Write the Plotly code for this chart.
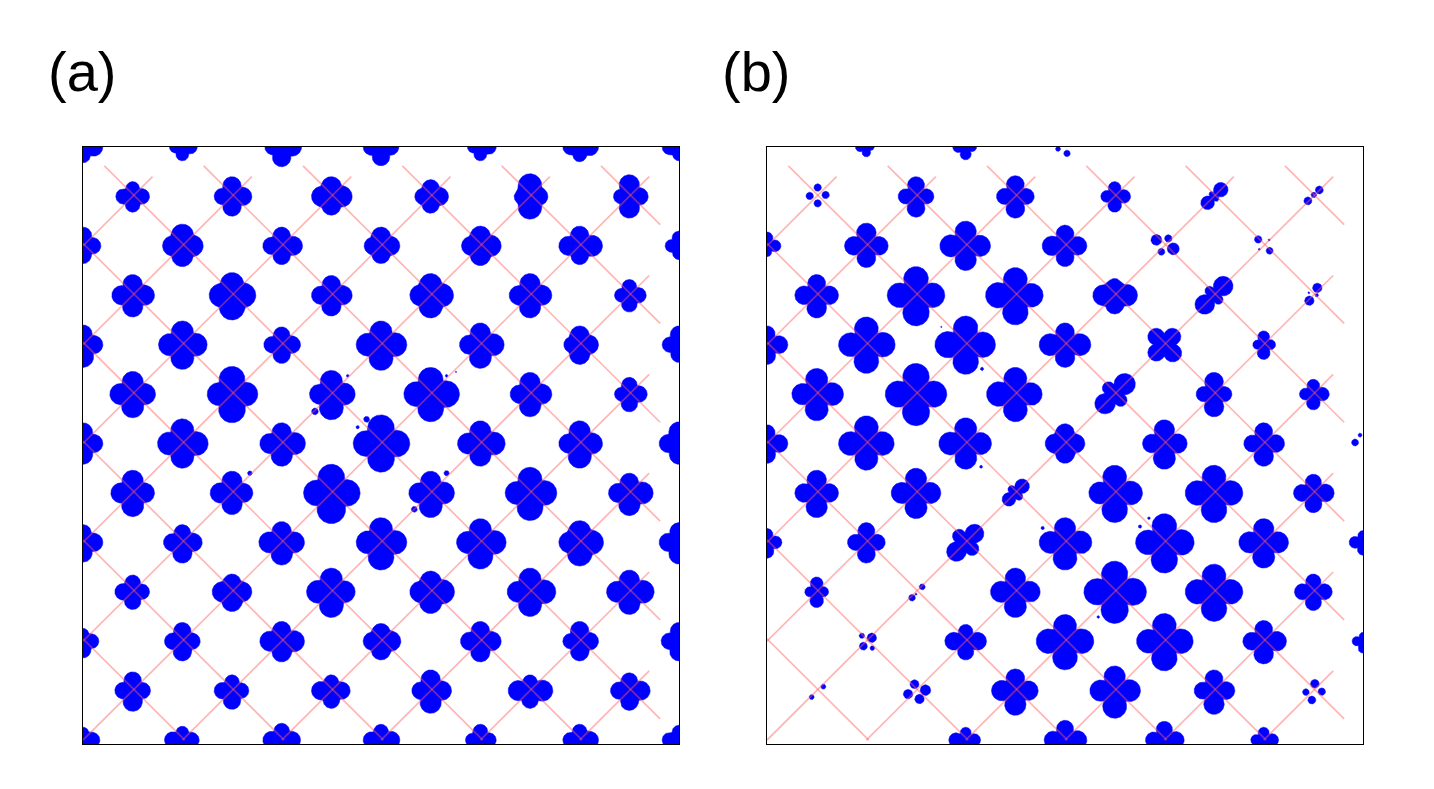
import numpy as np
import plotly.graph_objects as go

# Lobe lengths (top, right, bottom, left) of each clover, one unit = 1/50 lattice step.
# Rows are keyed by lattice row j; the column index i starts at j % 2 and steps by 2.
a_row_12 = [(16,20,16,16),(16,15,14,13),(16,20,20,17),(16,18,19,18),(16,16,14,13),(16,19,15,17),(16,16,14,17)]
a_row_11 = [(15,17,16,17),(20,20,20,18),(20,21,19,20),(17,18,17,16),(23,18,23,16),(22,19,22,16)]
a_row_10 = [(19,18,18,16),(22,21,21,20),(19,21,19,19),(19,19,18,17),(20,21,20,19),(20,23,19,21),(15,16,14,14)]
a_row_9  = [(21,22,22,21),(23,24,25,23),(20,21,21,20),(22,23,23,21),(22,22,23,21),(16,17,17,15)]
a_row_8  = [(20,20,23,18),(24,25,25,24),(18,19,19,18),(24,26,26,25),(22,24,24,21),(19,19,20,16),(19,16,18,17)]
a_row_7  = [(23,23,24,23),(28,26,29,25),(24,24,26,22),(27,29,28,27),(22,22,23,20),(17,18,18,15)]
a_row_6  = [(21,20,21,18),(25,26,25,25),(21,24,23,22),(29,29,29,28),(23,25,23,23),(23,23,25,21),(22,18,21,20)]
a_row_5  = [(23,22,24,22),(22,21,22,22),(29,29,31,28),(22,24,25,22),(26,27,28,25),(20,24,23,21)]
a_row_4  = [(18,20,20,16),(18,20,21,19),(21,23,23,23),(25,26,28,25),(24,26,27,24),(22,24,24,21),(20,16,22,20)]
a_row_3  = [(17,17,18,18),(18,20,20,20),(24,24,26,25),(21,24,22,21),(24,26,25,23),(22,25,23,23)]
a_row_2  = [(13,16,17,14),(19,18,20,18),(20,23,21,22),(18,20,19,18),(20,21,21,20),(20,19,20,17),(19,16,20,18)]
a_row_1  = [(19,18,21,18),(16,17,19,18),(16,19,18,20),(21,21,23,19),(16,23,18,22),(18,21,20,19)]
a_row_0  = [(13,17,15,15),(14,17,15,18),(17,19,15,19),(16,19,15,18),(16,16,15,15),(16,19,15,17),(15,16,15,17)]
a_rows = {12:a_row_12,11:a_row_11,10:a_row_10,9:a_row_9,8:a_row_8,7:a_row_7,6:a_row_6,
          5:a_row_5,4:a_row_4,3:a_row_3,2:a_row_2,1:a_row_1,0:a_row_0}

b_row_12 = [None,(5,8,10,11),(5,11,13,13),None,None,None,None]
b_row_11 = [None,(20,18,21,18),(21,19,22,19),(15,16,16,14),(17,6,16,6),None]
b_row_10 = [(14,14,11,10),(23,22,22,22),(25,25,25,26),(21,22,21,23),None,None,None]
b_row_9  = [(21,22,23,22),(29,29,31,29),(28,28,30,30),(17,23,19,22),(23,11,23,11),None]
b_row_8  = [(19,21,20,10),(28,29,29,28),(29,30,30,31),(22,26,23,26),(20,21,20,20),(14,12,15,11),None]
b_row_7  = [(26,27,27,25),(31,31,32,31),(27,27,28,29),(25,15,24,15),(22,18,23,18),(15,16,16,14)]
b_row_6  = [(19,21,20,10),(28,28,27,28),(26,26,26,27),(20,20,20,20),(24,23,26,22),(21,21,23,20),None]
b_row_5  = [(23,22,25,22),(25,25,26,25),(17,9,16,9),(28,28,30,26),(28,29,30,29),(19,21,20,20)]
b_row_4  = [(14,15,16,10),(20,19,21,19),(22,16,23,16),(25,27,28,26),(29,30,31,29),(24,25,26,25),(12,10,13,14)]
b_row_3  = [(15,12,16,12),None,(24,25,26,25),(31,32,32,31),(28,29,30,29),(18,19,19,19)]
b_row_2  = [None,None,(17,21,19,21),(27,29,29,29),(28,29,30,28),(21,23,23,21),(9,10,12,11)]
b_row_1  = [None,None,(22,23,25,24),(25,26,28,25),(21,21,24,20),None]
b_row_0  = [None,None,(13,15,10,17),(20,22,15,21),(19,20,15,19),(13,15,10,13),None]
b_rows = {12:b_row_12,11:b_row_11,10:b_row_10,9:b_row_9,8:b_row_8,7:b_row_7,6:b_row_6,
          5:b_row_5,4:b_row_4,3:b_row_3,2:b_row_2,1:b_row_1,0:b_row_0}

# Clovers turned by 45 degrees, and clovers with a fuller body
b_turned = [(9,11),(9,9),(8,8),(7,7),(5,5),(4,4)]
a_full = [(2,10),(5,11),(3,9),(7,9),(10,8),(10,4),(6,2),(3,3),(7,3),(7,11),(9,11),(6,10),(8,10)]
b_full = [(6,6),(7,9)]

# Free droplets: x, y, radius
a_dots_x = [4.67,5.33,5.71,5.53,7.32,7.51,3.36,7.32,6.67]
a_dots_y = [6.65,7.37,6.49,6.33,7.37,7.45,5.40,5.40,4.67]
a_dots_r = [.067,.027,.06,.034,.027,.014,.047,.053,.06]
b_dots_x = [4.33,3.51,4.31,5.55,7.69,7.51,6.67,1.02,1.18,1.02,.86,11.12,11.01,10.89,7.84,8.08,8.18,7.94,
            9.89,10.12,10.11,9.91,11.08,10.92,11.07,10.91,11.84,11.94,3.125,2.92,3.0,1.91,2.11,1.94,2.12,
            1.135,.90,2.97,3.19,3.07,2.84,11.03,11.17,10.97,10.85,6.04,5.86]
b_dots_y = [7.51,8.36,5.53,4.29,4.49,4.32,2.49,11.18,11.03,10.86,11.01,11.13,11.03,10.91,10.12,10.15,9.94,9.88,
            10.13,9.90,10.12,9.93,9.15,8.89,9.0,9.05,6.02,6.17,3.10,2.88,2.95,2.11,2.07,1.90,1.86,
            1.08,.87,1.13,1.01,.83,.93,1.14,.98,.81,.97,11.87,11.96]
b_dots_r = [.034,.014,.03,.034,.027,.034,.027,.075,.075,.075,.075,.08,.055,.08,.11,.075,.12,.07,
            .075,.07,.02,.02,.095,.095,.035,.02,.07,.04,.06,.067,.02,.055,.095,.08,.047,
            .05,.05,.09,.107,.095,.095,.088,.075,.08,.067,.065,.05]

# Diagonal lattice lines: x + y = k and x - y = m
line_k = [2,4,6,8,10,12,14,16,18,20,22]
line_m = [-10,-8,-6,-4,-2,0,2,4,6,8,10]
panel_labels = ["(a)", "(b)"]

LOBE_UNIT = 1/50
THETA = np.linspace(0, 2*np.pi, 241)
# The page body keeps an 8 px margin, so the figure is placed inside it.
W, H, OFF = 1426, 781, 8


def clover_path(cx, cy, lobes, ratio, body, turn):
    """Outline as the union of four teardrop lobes around a round body."""
    rad = np.full_like(THETA, body*np.mean(lobes))
    for k, length in enumerate(lobes):
        axis = np.pi/2 - k*np.pi/2 - np.radians(turn)
        r = ratio*length/2
        d = length - r
        phi = THETA - axis
        disc = r**2 - (d*np.sin(phi))**2
        hit = (disc > 0) & (np.cos(phi) > 0)
        rho = np.where(hit, d*np.cos(phi) + np.sqrt(np.maximum(disc, 0)), 0)
        rad = np.maximum(rad, rho)
    return cx + rad*np.cos(THETA)*LOBE_UNIT, cy + rad*np.sin(THETA)*LOBE_UNIT


def panel_paths(rows, ratio, body, full, turned, dots):
    xs, ys = [], []
    for j, row in rows.items():
        for n, lobes in enumerate(row):
            if lobes is None:
                continue
            i = j % 2 + 2*n
            is_full = (i, j) in full
            turn = 45 if (i, j) in turned else 0
            px, py = clover_path(i, j, lobes, ratio + (.1 if is_full else 0),
                                 .72 if is_full else body, turn)
            xs += list(px) + [None]
            ys += list(py) + [None]
    for x, y, r in zip(*dots):
        xs += list(x + r*np.cos(THETA[::8])) + [None]
        ys += list(y + r*np.sin(THETA[::8])) + [None]
    return xs, ys


def grid_lines(shift):
    xs, ys = [], []
    for k in line_k:
        if k >= 12:
            xs += [k-11.62+shift, 11.62, None]; ys += [11.62, k-11.62+shift, None]
        else:
            xs += [0, k+shift, None]; ys += [k+shift, 0, None]
    for m in line_m:
        top = min(11.4, 11.4 - m) if m > 0 else 11.4
        x0, y0 = (m, 0) if m >= 0 else (0, -m)
        xs += [x0, top + m, None]; ys += [y0, top, None]
    return xs, ys


def dom_x(a, b):
    return [(a-OFF)/W, (b-OFF)/W]


def dom_y(top, bottom):
    return [1-(bottom-OFF)/H, 1-(top-OFF)/H]


fig = go.Figure()
panels = [
    ("x", "y", a_rows, .93, .5, a_full, [], (a_dots_x, a_dots_y, a_dots_r)),
    ("x2", "y2", b_rows, .86, .36, b_full, b_turned, (b_dots_x, b_dots_y, b_dots_r)),
]
lx, ly = grid_lines(0.05)
for xa, ya, rows, ratio, body, full, turned, dots in panels:
    px, py = panel_paths(rows, ratio, body, full, turned, dots)
    fig.add_trace(go.Scatter(x=px, y=py, xaxis=xa, yaxis=ya, mode="lines", fill="toself",
                             fillcolor="#0000ff", line=dict(color="#0000ff", width=0.5),
                             hoverinfo="skip", showlegend=False))
    fig.add_trace(go.Scatter(x=lx, y=ly, xaxis=xa, yaxis=ya, mode="lines",
                             line=dict(color="rgba(255,90,90,0.45)", width=1.7),
                             hoverinfo="skip", showlegend=False))

ax = dict(range=[0, 12], showgrid=False, zeroline=False, showticklabels=False, ticks="",
          showline=True, mirror=True, linecolor="black", linewidth=1)
ay = dict(ax, range=[-0.08, 12], domain=dom_y(147, 744))
fig.update_layout(
    width=W, height=H, margin=dict(l=0, r=0, t=0, b=0),
    paper_bgcolor="white", plot_bgcolor="white", showlegend=False,
    xaxis=dict(ax, domain=dom_x(83, 679)),
    xaxis2=dict(ax, domain=dom_x(767, 1363)),
    yaxis=ay, yaxis2=dict(ay, anchor="x2"),
    annotations=[dict(text=t, x=(x-OFF)/W, y=1-(71-OFF)/H, xref="paper", yref="paper", xanchor="left",
                      yanchor="middle", showarrow=False,
                      font=dict(family="Liberation Sans", size=56, color="black"))
                 for t, x in zip(panel_labels, [46, 720])],
)
fig.write_html("out.html")
